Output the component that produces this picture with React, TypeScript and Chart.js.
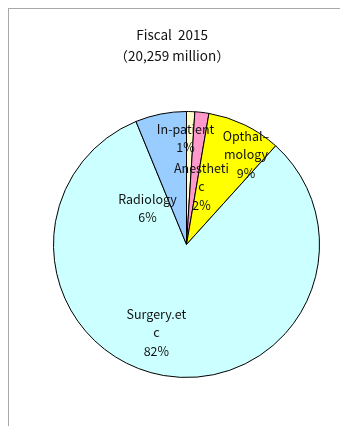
import React, { useEffect, useRef } from "react";
import { Chart, registerables } from "chart.js";

Chart.register(...registerables);

const categories = ["In-patient", "Anesthetic", "Opthalmology", "Surgery.etc", "Radiology"];
const values = [1.0, 1.7, 9.0, 82.1, 6.2];
const labelLines = [
  ["In-patient", "1%"],
  ["Anestheti", "c", "2%"],
  ["Opthal–", "mology", "9%"],
  ["Surgery.et", "c", "82%"],
  ["Radiology", "6%"],
];
const titleLines = ["Fiscal  2015", "（20,259 million）"];

const colors = ["#ffffcc", "#ff99cc", "#ffff00", "#ccffff", "#99ccff"];
// label placement style: [radius fraction, angle shift (deg) from slice middle]
const labelPlace = [
  [0.8, -2.3],
  [0.45, 7.8],
  [0.81, 7.6],
  [0.7, 9],
  [0.4, -36],
];
const FONT = '"Noto Sans CJK JP", "Liberation Sans", sans-serif';

const labelPlugin = {
  id: "sliceLabels",
  afterDraw(chart: any) {
    const ctx = chart.ctx;
    const meta = chart.getDatasetMeta(0);
    ctx.save();
    ctx.fillStyle = "#111";
    ctx.textAlign = "center";
    ctx.textBaseline = "middle";
    ctx.font = `12.5px ${FONT}`;
    meta.data.forEach((arc: any, i: number) => {
      const p = arc.getProps(["x", "y", "startAngle", "endAngle", "outerRadius"], true);
      const mid = (p.startAngle + p.endAngle) / 2 + (labelPlace[i][1] * Math.PI) / 180;
      const r = p.outerRadius * labelPlace[i][0];
      const cx = p.x + Math.cos(mid) * r;
      const cy = p.y + Math.sin(mid) * r;
      const lines = labelLines[i];
      const lh = 18.5;
      lines.forEach((t, k) => {
        ctx.fillText(t, cx, cy + (k - (lines.length - 1) / 2) * lh);
      });
    });
    // title
    ctx.font = `13.5px ${FONT}`;
    const tx = chart.width * 0.481;
    titleLines.forEach((t, k) => {
      ctx.fillText(t, tx, 26 + k * 21);
    });
    ctx.restore();
  },
};

export default function App() {
  const ref = useRef<HTMLCanvasElement>(null);
  useEffect(() => {
    const chart = new Chart(ref.current!, {
      type: "pie",
      data: {
        labels: categories,
        datasets: [
          {
            data: values,
            backgroundColor: colors,
            borderColor: "#000",
            borderWidth: 1,
          },
        ],
      },
      options: {
        animation: false,
        responsive: false,
        layout: { padding: { left: 44, right: 28, top: 102, bottom: 48 } },
        plugins: {
          legend: { display: false },
          tooltip: { enabled: false },
          title: { display: false },
        },
      },
      plugins: [labelPlugin],
    });
    return () => chart.destroy();
  }, []);
  return (
    <div
      style={{
        width: 339,
        height: 417,
        borderTop: "1px solid #a8a8a8",
        borderLeft: "1px solid #a8a8a8",
        background: "#fff",
      }}
    >
      <canvas ref={ref} width={339} height={417} style={{ display: "block" }} />
    </div>
  );
}
